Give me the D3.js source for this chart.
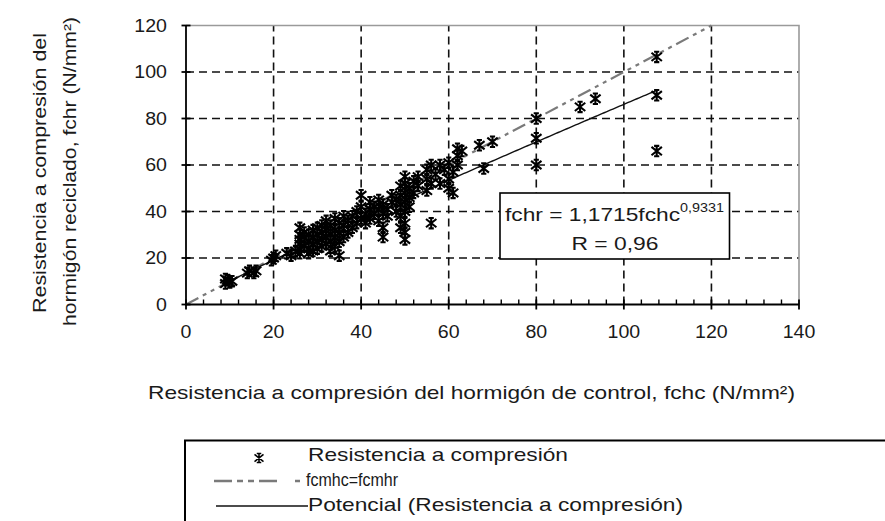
<!DOCTYPE html>
<html><head><meta charset="utf-8">
<script src="https://cdn.jsdelivr.net/npm/d3@7"></script>
<style>
body{margin:0;background:#fff}
svg{display:block}
text{font-family:"Liberation Sans",Arial,Helvetica,sans-serif;fill:#1a1a1a}
</style>
</head><body>
<svg id="c" width="885" height="521"></svg>
<script>
// ---- data ----
const xTicks = [0, 20, 40, 60, 80, 100, 120, 140];
const yTicks = [0, 20, 40, 60, 80, 100, 120];
const fchc = [
  9, 9.5, 10, 10.5, 9,
  14, 14.5, 15.5, 16,
  20, 19.5, 20.5,
  23, 24, 25, 26, 26, 26, 26, 26, 26, 27, 27, 27, 28, 28, 28, 28, 29, 29, 29, 29, 30, 30, 30, 30,
  31, 31, 31, 31, 32, 32, 32, 32, 33, 33, 33, 33, 34, 34, 34, 34, 35, 35, 35, 35, 36, 36, 36,
  37, 37, 38, 38, 39, 39, 40, 40, 40, 41, 41, 42, 42, 42, 43, 43, 44, 44, 44, 45, 45, 45, 45, 46, 46, 47, 47, 48, 48,
  49, 49, 49, 49, 49, 50, 50, 50, 50, 50, 50, 50, 50, 51, 51, 51, 52, 52, 53, 53,
  55, 55, 55, 56, 56, 56, 57, 58, 58, 59, 60, 60, 60, 61, 61, 62, 62, 62, 63, 67, 68, 70,
  80, 80, 80, 90, 93.5, 107.5, 107.5, 107.5
];
const fchr = [
  9, 10.5, 9.5, 10, 11,
  13.5, 14.5, 13.5, 14.5,
  20, 19, 21,
  22, 21, 23, 22, 24, 26, 28, 30, 33, 25, 29, 31, 22, 24, 27, 30, 23, 26, 29, 32, 24, 27, 30, 33,
  25, 28, 31, 34, 26, 29, 32, 36, 23, 27, 30, 34, 25, 29, 32, 37, 21, 27, 31, 35, 29, 34, 38,
  31, 36, 33, 38, 35, 40, 37, 42, 47, 35, 39, 37, 41, 44, 39, 42, 36, 41, 45, 29, 33, 39, 43, 41, 38, 44, 47, 40, 45,
  33, 38, 43, 47, 51, 28, 31, 35, 40, 44, 48, 52, 55, 42, 46, 50, 48, 53, 51, 55,
  49, 54, 58, 35, 52, 60, 56, 52, 60, 58, 50, 54, 61, 48, 57, 60, 64, 67, 66, 68.5, 58.5, 70,
  80, 71.5, 60, 85, 88.5, 106.5, 90, 66
];
const identityLine = [0, 120];          // fcmhc = fcmhr
const trendCoef = [1.1715, 0.9331];     // fchr = a * fchc^b (from chart label)

// ---- layout ----
const svg = d3.select("#c");
const x = d3.scaleLinear().domain([0, 140]).range([186, 799]);
const y = d3.scaleLinear().domain([0, 120]).range([304.5, 25.5]);

function stext(g, px, py, str, size, len, anchor) {
  const t = g.append("text").attr("x", px).attr("y", py)
    .attr("font-size", size).attr("text-anchor", anchor || "start");
  if (len) t.attr("textLength", len).attr("lengthAdjust", "spacingAndGlyphs");
  return t.text(str);
}

// grid
const grid = svg.append("g").attr("stroke", "#111").attr("stroke-width", 1.6)
  .attr("stroke-dasharray", "8,5").attr("fill", "none");
grid.selectAll(".v").data(xTicks.filter(d => d > 0 && d < 140)).join("line")
  .attr("x1", d => x(d)).attr("x2", d => x(d)).attr("y1", y(0)).attr("y2", y(120));
grid.selectAll(".h").data(yTicks.filter(d => d > 0 && d < 120)).join("line")
  .attr("y1", d => y(d)).attr("y2", d => y(d)).attr("x1", x(0)).attr("x2", x(140));

// plot border (top / right)
svg.append("path").attr("fill", "none").attr("stroke", "#9a9a9a").attr("stroke-width", 1.6)
  .attr("d", `M${x(0)},${y(120)}H${x(140)}V${y(0)}`);

// identity dashed line
svg.append("line").attr("x1", x(identityLine[0])).attr("y1", y(identityLine[0]))
  .attr("x2", x(identityLine[1])).attr("y2", y(identityLine[1]))
  .attr("stroke", "#7a7a7a").attr("stroke-width", 2.2).attr("stroke-dasharray", "14,5,4,5,4,5");

// power trend line
const xmin = d3.min(fchc), xmax = d3.max(fchc);
const tr = d3.range(xmin, xmax, 0.5).concat([xmax]).map(v => [v, trendCoef[0] * Math.pow(v, trendCoef[1])]);
svg.append("path").datum(tr).attr("fill", "none").attr("stroke", "#111").attr("stroke-width", 1.4)
  .attr("d", d3.line().x(d => x(d[0])).y(d => y(d[1])));

// scatter markers (asterisk: X + vertical bar)
const star = (s) => `M${-s},${-s * 0.8}L${s},${s * 0.8}M${-s},${s * 0.8}L${s},${-s * 0.8}M0,${-s}V${s}M${-s*0.5},${-s}H${s*0.5}M${-s*0.5},${s}H${s*0.5}`;
svg.append("g").selectAll("path").data(fchc.map((v, i) => [v, fchr[i]])).join("path")
  .attr("transform", d => `translate(${x(d[0])},${y(d[1])})`)
  .attr("d", star(5.2)).attr("fill", "none").attr("stroke", "#000").attr("stroke-width", 2.1);

// axes
const ax = svg.append("g").attr("stroke", "#000").attr("stroke-width", 1.8);
ax.append("line").attr("x1", x(0)).attr("x2", x(0)).attr("y1", y(0) + 1).attr("y2", y(120));
ax.append("line").attr("x1", x(0) - 1).attr("x2", x(140)).attr("y1", y(0)).attr("y2", y(0));
ax.selectAll(".yt").data(yTicks).join("line")
  .attr("x1", x(0) - 4.5).attr("x2", x(0) + 4.5).attr("y1", d => y(d)).attr("y2", d => y(d));
ax.selectAll(".xt").data(xTicks).join("line")
  .attr("x1", d => x(d)).attr("x2", d => x(d)).attr("y1", y(0) - 5).attr("y2", y(0) + 5);
ax.selectAll(".xm").data(d3.range(0, 141, 4).filter(d => d % 20 !== 0)).join("line")
  .attr("stroke-width", 1.4)
  .attr("x1", d => x(d)).attr("x2", d => x(d)).attr("y1", y(0) - 5).attr("y2", y(0));

// tick labels
yTicks.forEach(d => {
  svg.append("text").attr("transform", `translate(167,${y(d) + 6.3}) scale(1.12,1)`)
    .attr("text-anchor", "end").attr("font-size", 17.5).text(d);
});
xTicks.forEach(d => {
  svg.append("text").attr("transform", `translate(${x(d)},338) scale(1.12,1)`)
    .attr("text-anchor", "middle").attr("font-size", 17.5).text(d);
});

// axis titles
stext(svg, 148, 399, "Resistencia a compresión del hormigón de control, fchc (N/mm²)", 19, 647);
svg.append("text").attr("transform", "translate(46,173) rotate(-90)")
  .attr("text-anchor", "middle").attr("font-size", 18).attr("fill", "#333")
  .attr("textLength", 280).attr("lengthAdjust", "spacingAndGlyphs")
  .text("Resistencia a compresión del");
svg.append("text").attr("transform", "translate(76,171.5) rotate(-90)")
  .attr("text-anchor", "middle").attr("font-size", 18).attr("fill", "#333")
  .attr("textLength", 309).attr("lengthAdjust", "spacingAndGlyphs")
  .text("hormigón reciclado, fchr (N/mm²)");

// equation box
svg.append("rect").attr("x", 500).attr("y", 193).attr("width", 229.5).attr("height", 66)
  .attr("fill", "#fff").attr("stroke", "#000").attr("stroke-width", 1.6);
const eq = svg.append("text").attr("x", 505).attr("y", 221).attr("font-size", 19)
  .attr("textLength", 219).attr("lengthAdjust", "spacingAndGlyphs");
eq.append("tspan").text("fchr = " + String(trendCoef[0]).replace(".", ",") + "fchc");
eq.append("tspan").attr("font-size", 12).attr("dy", -9).text(String(trendCoef[1]).replace(".", ","));
stext(svg, 615, 250, "R = 0,96", 19, 87, "middle");

// legend
const lg = svg.append("g");
lg.append("path").attr("fill", "none").attr("stroke", "#000").attr("stroke-width", 2)
  .attr("d", "M185,521V440.5H885");
lg.append("path").attr("transform", "translate(259,458)").attr("d", star(4.5))
  .attr("fill", "none").attr("stroke", "#000").attr("stroke-width", 1.6);
stext(lg, 308, 461, "Resistencia a compresión", 18.5, 260);
lg.append("line").attr("x1", 214).attr("x2", 304).attr("y1", 481).attr("y2", 481)
  .attr("stroke", "#7a7a7a").attr("stroke-width", 2.6).attr("stroke-dasharray", "18,5,6,5,6,5,18");
stext(lg, 306, 486, "fcmhc=fcmhr", 18.5, 92);
lg.append("line").attr("x1", 216).attr("x2", 308).attr("y1", 506).attr("y2", 506)
  .attr("stroke", "#111").attr("stroke-width", 1.4);
stext(lg, 308, 511, "Potencial (Resistencia a compresión)", 18.5, 375);
</script>
</body></html>
